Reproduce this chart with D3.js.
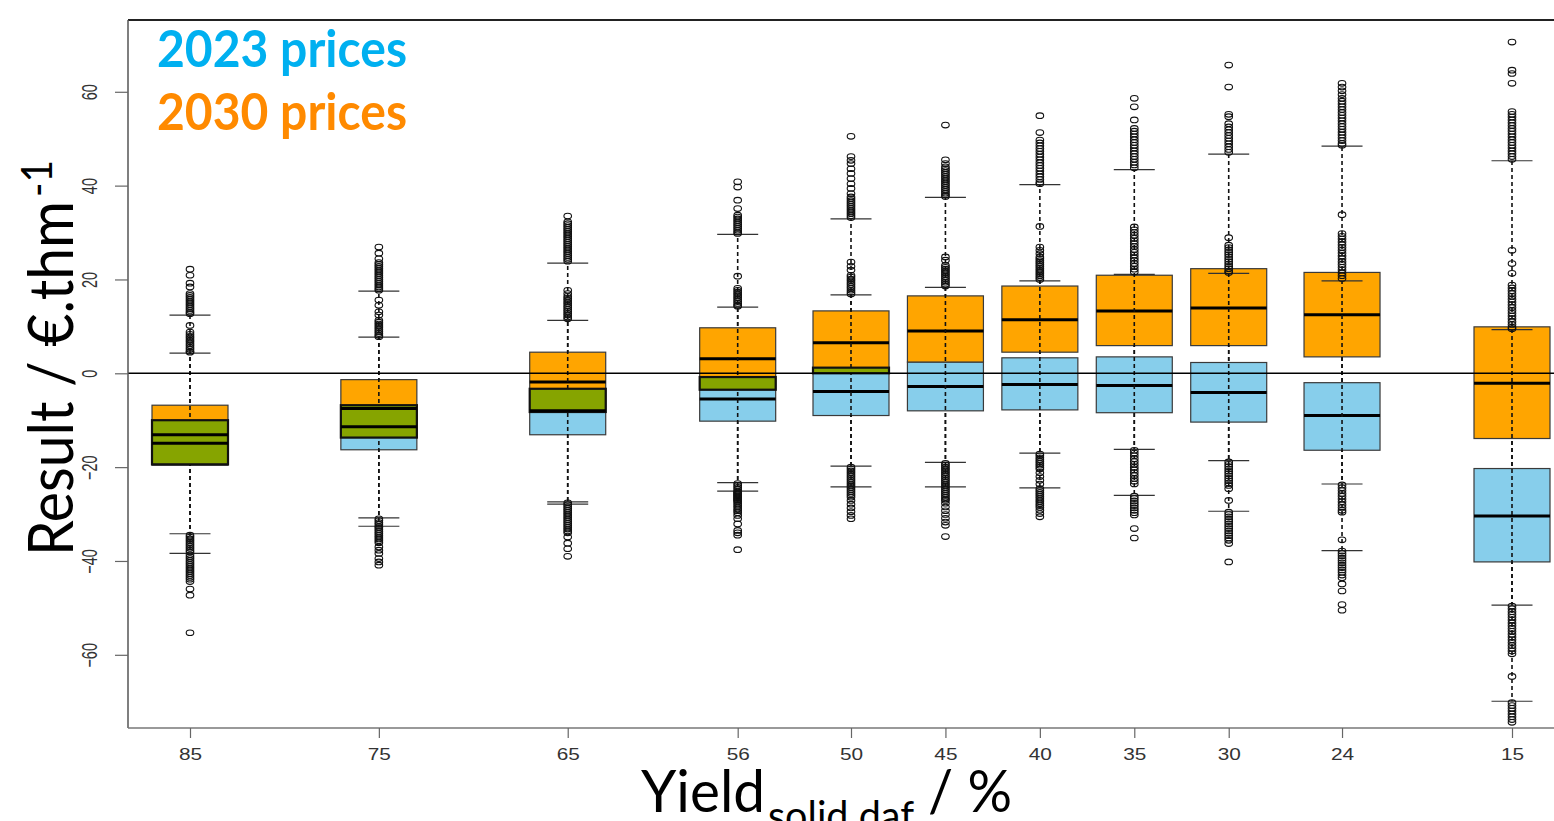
<!DOCTYPE html>
<html>
<head>
<meta charset="utf-8">
<script src="https://cdn.jsdelivr.net/npm/d3@7"></script>
<style>
  html, body { margin: 0; padding: 0; background: #fff; overflow: hidden; }
  svg { display: block; }
</style>
</head>
<body>
<div id="chart"></div>
<script>
// Yield categories (x axis, %)
const yields = [85, 75, 65, 56, 50, 45, 40, 35, 30, 24, 15];

// 2023 prices (skyblue boxes): whisker ends, quartiles, medians
const blueLow  = [-34.2, -30.8, -27.9, -25.1, -24.2, -24.2, -24.4, -26.0, -29.4, -37.8, -69.9];
const blueQ1   = [-19.6, -16.3, -13.1, -10.2, -9.0, -8.0, -7.8, -8.4, -10.4, -16.4, -40.2];
const blueMed  = [-14.9, -11.4, -8.0, -5.5, -3.9, -2.8, -2.4, -2.6, -4.1, -9.0, -30.4];
const blueQ3   = [-10.0, -6.8, -3.3, -0.8, 1.2, 2.4, 3.3, 3.5, 2.3, -2.0, -20.3];
const blueHigh = [4.3, 7.7, 11.3, 14.1, 16.7, 18.3, 19.7, 21.1, 21.3, 19.7, 9.3];

// 2030 prices (orange boxes)
const orangeLow  = [-38.4, -32.6, -27.4, -23.3, -19.8, -19.0, -17.0, -16.2, -18.6, -23.6, -49.4];
const orangeQ1   = [-19.4, -13.7, -8.25, -3.5, 0.0, 2.4, 4.5, 5.9, 5.9, 3.5, -13.9];
const orangeMed  = [-13.1, -7.5, -1.85, 3.1, 6.5, 9.0, 11.4, 13.3, 13.9, 12.5, -2.1];
const orangeQ3   = [-6.8, -1.35, 4.5, 9.7, 13.3, 16.5, 18.6, 20.9, 22.3, 21.5, 9.9];
const orangeHigh = [12.4, 17.5, 23.5, 29.6, 32.9, 37.5, 40.2, 43.4, 46.7, 48.4, 45.3];

// outliers, one list per category
const blueOut = [
  [10.2, 8.8, 8.3, 7.9, 7.5, 7.1, 6.7, 6.3, 5.9, 5.5, 5.1, 4.7, 4.5, -34.5, -34.9, -35.3, -35.7, -36.1, -36.5, -36.9, -37.3, -37.7, -38.1],
  [15.6, 14.5, 13.1, 12.4, 11.3, 10.9, 10.5, 10.1, 9.7, 9.3, 8.9, 8.5, 8.1, 7.8, -31.0, -31.4, -31.8, -32.2, -32.6],
  [17.7, 17.0, 16.4, 16.0, 15.6, 15.2, 14.8, 14.4, 14.0, 13.6, 13.2, 12.8, 12.4, 12.0, 11.6, -28.0, -28.8, -29.6, -30.4, -31.2, -32.0, -32.8, -33.6, -37.4, -39.0],
  [20.7, 18.1, 17.7, 17.3, 16.9, 16.5, 16.1, 15.7, 15.3, 14.9, 14.5, 14.3, -25.3, -25.7, -26.1, -26.5, -26.9, -27.3, -27.7, -28.1, -28.5, -28.9, -29.3, -29.7, -30.3, -31.0, -32.1, -33.5, -34.0, -34.5, -37.6],
  [23.7, 22.8, 22.0, 20.9, 20.5, 20.1, 19.7, 19.3, 18.9, 18.5, 18.1, 17.7, 17.3, 16.9, -24.4, -24.8, -25.2, -25.6, -26.0, -26.4, -27.1, -27.9, -28.7, -29.5, -30.3, -31.0],
  [24.8, 24.1, 23.0, 22.6, 22.2, 21.8, 21.4, 21.0, 20.6, 20.2, 19.8, 19.4, 19.0, 18.6, -24.4, -24.8, -25.2, -25.6, -26.0, -26.4, -26.8, -27.1, -27.7, -28.5, -29.3, -30.1, -30.9, -31.7, -32.4, -34.8],
  [31.3, 26.9, 26.2, 25.5, 24.8, 24.4, 24.0, 23.6, 23.2, 22.8, 22.4, 22.0, 21.6, 21.2, 20.8, 20.4, 20.0, -24.6, -25.0, -25.4, -25.8, -26.2, -26.6, -27.0, -27.4, -27.8, -28.2, -28.6, -29.2, -29.9, -30.6],
  [31.2, 30.6, 30.0, 29.4, 28.8, 28.2, 27.6, 27.0, 26.4, 25.8, 25.2, 24.6, 24.0, 23.4, 22.8, 22.2, 21.6, -26.2, -26.7, -27.2, -27.7, -28.2, -28.7, -29.2, -29.7, -30.2, -33.1, -35.1],
  [28.9, 27.3, 26.8, 26.3, 25.8, 25.3, 24.8, 24.3, 23.8, 23.3, 22.8, 22.3, 21.8, 21.5, -29.6, -30.1, -30.6, -31.1, -31.6, -32.1, -32.6, -33.1, -33.6, -34.1, -34.6, -35.1, -35.6, -36.3, -40.2],
  [33.8, 29.8, 29.2, 28.6, 28.0, 27.4, 26.8, 26.2, 25.6, 25.0, 24.4, 23.8, 23.2, 22.6, 22.0, 21.4, 20.8, 20.2, -37.9, -38.4, -38.9, -39.4, -39.9, -40.4, -40.9, -41.4, -41.9, -42.4, -43.0, -43.6, -44.9, -46.4, -49.3, -50.5],
  [26.2, 23.4, 21.3, 18.8, 18.2, 17.6, 17.0, 16.4, 15.8, 15.2, 14.6, 14.0, 13.4, 12.8, 12.2, 11.6, 11.0, 10.4, 9.8, 9.5, -70.2, -70.8, -71.4, -72.0, -72.6, -73.2, -73.8, -74.4]
];
const orangeOut = [
  [22.2, 20.9, 19.2, 18.4, 17.0, 16.6, 16.2, 15.8, 15.4, 15.0, 14.6, 14.2, 13.8, 13.4, 13.0, 12.7, -38.7, -39.1, -39.5, -39.9, -40.3, -40.7, -41.1, -41.5, -41.9, -42.3, -42.7, -43.1, -43.5, -43.9, -44.4, -46.0, -47.3, -55.3],
  [26.9, 25.6, 24.4, 23.6, 23.2, 22.8, 22.4, 22.0, 21.6, 21.2, 20.8, 20.4, 20.0, 19.6, 19.2, 18.8, 18.4, 18.0, 17.7, -32.9, -33.3, -33.7, -34.1, -34.5, -34.9, -35.3, -35.7, -36.1, -37.0, -37.7, -38.4, -39.5, -40.2, -40.9],
  [33.5, 32.3, 31.9, 31.5, 31.1, 30.7, 30.3, 29.9, 29.5, 29.1, 28.7, 28.3, 27.9, 27.5, 27.1, 26.7, 26.3, 25.9, 25.5, 25.1, 24.7, 24.3, 23.9, -27.6, -28.4, -29.2, -30.0, -30.8, -31.6, -32.4, -33.2, -34.0, -34.9, -36.2],
  [40.8, 39.7, 36.9, 35.1, 33.7, 33.3, 32.9, 32.5, 32.1, 31.7, 31.3, 30.9, 30.5, 30.1, 29.8, -23.5, -23.9, -24.3, -24.7, -25.1, -25.5, -25.9, -26.3, -26.7, -27.1],
  [50.5, 46.2, 45.4, 44.7, 43.6, 42.6, 41.5, 40.4, 39.4, 38.3, 37.6, 37.2, 36.8, 36.4, 36.0, 35.6, 35.2, 34.8, 34.4, 34.0, 33.6, 33.2, -20.0, -20.4, -20.8, -21.2, -21.6, -22.0, -22.4, -22.8, -23.2, -23.6, -24.0],
  [52.9, 45.5, 44.7, 44.0, 43.6, 43.2, 42.8, 42.4, 42.0, 41.6, 41.2, 40.8, 40.4, 40.0, 39.6, 39.2, 38.8, 38.4, 38.0, 37.7, -19.2, -19.6, -20.0, -20.4, -20.8, -21.2, -21.6, -22.0, -22.4, -22.8, -23.2, -23.6, -24.0],
  [54.9, 51.3, 49.7, 49.1, 48.5, 47.9, 47.3, 46.7, 46.1, 45.5, 44.9, 44.3, 43.7, 43.1, 42.5, 41.9, 41.3, 40.7, 40.4, -17.2, -17.6, -18.0, -18.4, -18.8, -19.2, -19.6, -20.0, -20.4, -21.2, -22.0, -22.8, -23.6],
  [58.6, 56.8, 54.0, 52.2, 51.6, 51.0, 50.4, 49.8, 49.2, 48.6, 48.0, 47.4, 46.8, 46.2, 45.6, 45.0, 44.4, 43.8, -16.4, -17.0, -17.6, -18.2, -18.8, -19.4, -20.0, -20.6, -21.2, -21.8, -22.4, -23.0, -23.6],
  [65.7, 61.0, 55.2, 54.7, 53.2, 52.5, 51.9, 51.3, 50.7, 50.1, 49.5, 48.9, 48.3, 47.7, 47.1, -18.9, -19.4, -19.9, -20.4, -20.9, -21.4, -21.9, -22.4, -22.9, -23.4, -23.9, -24.6, -27.1],
  [61.8, 61.0, 60.2, 59.4, 58.6, 58.0, 57.4, 56.8, 56.2, 55.6, 55.0, 54.4, 53.8, 53.2, 52.6, 52.0, 51.4, 50.8, 50.2, 49.6, 49.0, 48.6, -23.8, -24.4, -25.0, -25.6, -26.2, -26.8, -27.4, -28.0, -28.6, -29.2, -29.6, -35.5],
  [70.6, 64.6, 63.9, 61.8, 55.8, 55.2, 54.6, 54.0, 53.4, 52.8, 52.2, 51.6, 51.0, 50.4, 49.8, 49.2, 48.6, 48.0, 47.4, 46.8, 46.2, 45.6, -49.6, -50.2, -50.8, -51.4, -52.0, -52.6, -53.2, -53.8, -54.4, -55.0, -55.6, -56.2, -56.8, -57.4, -58.0, -58.6, -59.2, -59.8, -64.6]
];

const yTicks = [-60, -40, -20, 0, 20, 40, 60];

const width = 1554, height = 821;
const plotLeft = 128, plotTop = 20, plotBottom = 728, plotRight = 1580;
const boxW = 76, capW = 39;

const svg = d3.select('#chart').append('svg')
  .attr('width', width)
  .attr('height', height);

const x = d3.scaleLinear().domain([85, 15]).range([190, 1512]);
const y = d3.scaleLinear().domain([-75.6, 75.3]).range([plotBottom, plotTop]);

function series(low, q1, med, q3, high, outs) {
  return yields.map((v, i) => ({
    yield: v, low: low[i], q1: q1[i], med: med[i], q3: q3[i], high: high[i], outs: outs[i]
  }));
}
const blue = series(blueLow, blueQ1, blueMed, blueQ3, blueHigh, blueOut);
const orange = series(orangeLow, orangeQ1, orangeMed, orangeQ3, orangeHigh, orangeOut);

const plot = svg.append('g');

// boxes
function drawBoxes(data, fill) {
  plot.append('g').selectAll('rect')
    .data(data)
    .join('rect')
    .attr('x', d => x(d.yield) - boxW / 2)
    .attr('width', boxW)
    .attr('y', d => y(d.q3))
    .attr('height', d => y(d.q1) - y(d.q3))
    .attr('fill', fill)
    .attr('stroke', '#3a3a3a')
    .attr('stroke-width', 1.2);
}
drawBoxes(blue, '#87CEEB');
drawBoxes(orange, '#FFA500');

// overlap of the two boxes
const overlap = yields.map((v, i) => ({
  yield: v,
  hi: Math.min(blueQ3[i], orangeQ3[i]),
  lo: Math.max(blueQ1[i], orangeQ1[i])
})).filter(d => d.hi > d.lo);

plot.append('g').selectAll('rect')
  .data(overlap)
  .join('rect')
  .attr('x', d => x(d.yield) - boxW / 2)
  .attr('width', boxW)
  .attr('y', d => y(d.hi))
  .attr('height', d => y(d.lo) - y(d.hi))
  .attr('fill', '#86A400')
  .attr('stroke', '#111')
  .attr('stroke-width', 2.2);

// medians
[blue, orange].forEach(data => {
  plot.append('g').selectAll('line')
    .data(data)
    .join('line')
    .attr('x1', d => x(d.yield) - boxW / 2)
    .attr('x2', d => x(d.yield) + boxW / 2)
    .attr('y1', d => y(d.med))
    .attr('y2', d => y(d.med))
    .attr('stroke', '#000')
    .attr('stroke-width', 3);
});

// whiskers and staples (dash phase tied to page y so overlapping whiskers line up)
[blue, orange].forEach(data => {
  const w = plot.append('g');
  w.selectAll('line.up')
    .data(data)
    .join('line')
    .attr('class', 'up')
    .attr('x1', d => x(d.yield)).attr('x2', d => x(d.yield))
    .attr('y1', d => y(d.high)).attr('y2', d => y(d.q3))
    .attr('stroke', '#111').attr('stroke-width', 1.6)
    .attr('stroke-dasharray', '4,3')
    .attr('stroke-dashoffset', d => y(d.high));
  w.selectAll('line.down')
    .data(data)
    .join('line')
    .attr('class', 'down')
    .attr('x1', d => x(d.yield)).attr('x2', d => x(d.yield))
    .attr('y1', d => y(d.q1)).attr('y2', d => y(d.low))
    .attr('stroke', '#111').attr('stroke-width', 1.6)
    .attr('stroke-dasharray', '4,3')
    .attr('stroke-dashoffset', d => y(d.q1));
  w.selectAll('line.cap')
    .data(data.flatMap(d => [{ yield: d.yield, v: d.high }, { yield: d.yield, v: d.low }]))
    .join('line')
    .attr('class', 'cap')
    .attr('x1', d => x(d.yield) - capW / 2 - 1).attr('x2', d => x(d.yield) + capW / 2 + 1)
    .attr('y1', d => y(d.v)).attr('y2', d => y(d.v))
    .attr('stroke', '#333').attr('stroke-width', 1.2);
});

// zero line
plot.append('line')
  .attr('x1', plotLeft).attr('x2', plotRight)
  .attr('y1', y(0)).attr('y2', y(0))
  .attr('stroke', '#000').attr('stroke-width', 1.6);

// outliers
[blue, orange].forEach(data => {
  plot.append('g').selectAll('ellipse')
    .data(data.flatMap(d => d.outs.map(v => ({ yield: d.yield, v }))))
    .join('ellipse')
    .attr('cx', d => x(d.yield))
    .attr('cy', d => y(d.v))
    .attr('rx', 3.8)
    .attr('ry', 2.8)
    .attr('fill', 'none')
    .attr('stroke', '#111')
    .attr('stroke-width', 1.1);
});

// frame
svg.append('line').attr('x1', plotLeft).attr('x2', plotRight).attr('y1', plotTop).attr('y2', plotTop)
  .attr('stroke', '#222').attr('stroke-width', 2);
svg.append('line').attr('x1', plotLeft).attr('x2', plotLeft).attr('y1', plotTop).attr('y2', plotBottom)
  .attr('stroke', '#555').attr('stroke-width', 1.5);
svg.append('line').attr('x1', plotLeft).attr('x2', plotRight).attr('y1', plotBottom).attr('y2', plotBottom)
  .attr('stroke', '#777').attr('stroke-width', 1.5);

// axes
const yAxis = svg.append('g')
  .attr('transform', `translate(${plotLeft},0)`)
  .call(d3.axisLeft(y).tickValues(yTicks).tickSize(13).tickFormat(d3.format('d')));
yAxis.select('.domain').remove();
yAxis.selectAll('line').attr('stroke', '#666').attr('stroke-width', 1.2);
yAxis.selectAll('text')
  .attr('x', 0).attr('dy', '0.36em')
  .attr('text-anchor', 'middle')
  .attr('transform', 'translate(-39,0) scale(1.5,1) rotate(-90)')
  .attr('font-family', 'Liberation Sans, Arial, sans-serif')
  .attr('font-size', 14.5)
  .attr('fill', '#333');

const xAxis = svg.append('g')
  .attr('transform', `translate(0,${plotBottom})`)
  .call(d3.axisBottom(x).tickValues(yields).tickSize(10).tickFormat(d3.format('d')));
xAxis.select('.domain').remove();
xAxis.selectAll('line').attr('stroke', '#666').attr('stroke-width', 1.2);
xAxis.selectAll('text')
  .attr('y', 0).attr('dy', '0.36em')
  .attr('transform', 'translate(0,26) scale(1.3,1)')
  .attr('font-family', 'Liberation Sans, Arial, sans-serif')
  .attr('font-size', 16)
  .attr('fill', '#333');

// axis titles
const yTitle = svg.append('g').attr('transform', 'translate(73,556) rotate(-90)');
yTitle.append('text')
  .attr('font-family', 'Lato, sans-serif')
  .attr('font-size', 62)
  .attr('textLength', 355)
  .attr('lengthAdjust', 'spacingAndGlyphs')
  .text('Result / €.thm');
yTitle.append('text')
  .attr('x', 359).attr('y', -21)
  .attr('font-family', 'Lato, sans-serif')
  .attr('font-size', 42)
  .attr('textLength', 37)
  .attr('lengthAdjust', 'spacingAndGlyphs')
  .text('-1');

const xTitle = svg.append('g')
  .attr('font-family', 'Lato, sans-serif');
xTitle.append('text')
  .attr('x', 641).attr('y', 812)
  .attr('font-size', 58)
  .attr('textLength', 124).attr('lengthAdjust', 'spacingAndGlyphs')
  .text('Yield');
xTitle.append('text')
  .attr('x', 768).attr('y', 830)
  .attr('font-size', 41)
  .attr('textLength', 146).attr('lengthAdjust', 'spacingAndGlyphs')
  .text('solid daf');
xTitle.append('text')
  .attr('x', 928).attr('y', 812)
  .attr('font-size', 58)
  .attr('textLength', 84).attr('lengthAdjust', 'spacingAndGlyphs')
  .text('/ %');

// legend text
svg.append('text')
  .attr('x', 157).attr('y', 67)
  .attr('font-family', 'Lato, sans-serif').attr('font-weight', 'bold')
  .attr('font-size', 52)
  .attr('textLength', 250).attr('lengthAdjust', 'spacingAndGlyphs')
  .attr('fill', '#00B0F0')
  .text('2023 prices');
svg.append('text')
  .attr('x', 157).attr('y', 130)
  .attr('font-family', 'Lato, sans-serif').attr('font-weight', 'bold')
  .attr('font-size', 52)
  .attr('textLength', 250).attr('lengthAdjust', 'spacingAndGlyphs')
  .attr('fill', '#FF8A00')
  .text('2030 prices');
</script>
</body>
</html>
